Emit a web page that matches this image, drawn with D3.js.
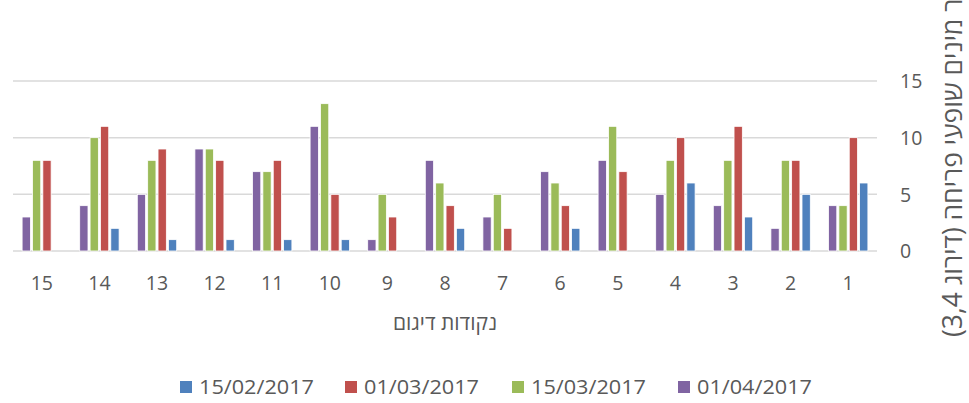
<!DOCTYPE html>
<html><head><meta charset="utf-8">
<script src="https://cdn.jsdelivr.net/npm/d3@7"></script>
<style>body{margin:0;background:#fff}svg{display:block}text{font-family:"Open Sans",sans-serif;fill:#595959}</style>
</head><body><svg id="c" width="969" height="403"></svg>
<script>
const categories = ["1","2","3","4","5","6","7","8","9","10","11","12","13","14","15"];
const seriesNames = ["15/02/2017","01/03/2017","15/03/2017","01/04/2017"];
const seriesColors = ["#4F81BD","#C0504D","#9BBB59","#8064A2"];
const s_15_02 = [6,5,3,6,0,2,0,2,0,1,1,1,1,2,0];
const s_01_03 = [10,8,11,10,7,4,2,4,3,5,8,8,9,11,8];
const s_15_03 = [4,8,8,8,11,6,5,6,5,13,7,9,8,10,8];
const s_01_04 = [4,2,4,5,8,7,3,8,1,11,7,9,5,4,3];
const seriesValues = [s_15_02, s_01_03, s_15_03, s_01_04];
const yTicks = [0,5,10,15];
const xTitle = "נקודות דיגום";
const yTitle = "מספר מינים שופעי פריחה (דירוג 3,4)";

const svg = d3.select("#c");
const L = 13, R = 877, T = 81, B = 251;
const x0 = d3.scaleBand().domain(categories.slice().reverse()).range([L, R]).paddingInner(0.28).paddingOuter(0.14);
const order = [3,2,1,0]; // left-to-right within group
const x1 = d3.scaleBand().domain(order).range([0, x0.bandwidth()]).paddingInner(0.2).paddingOuter(0.1);
const y = d3.scaleLinear().domain([0,15]).range([B, T]);

// gridlines
svg.append("g").selectAll("line").data(yTicks).join("line")
  .attr("x1", L).attr("x2", R).attr("y1", d=>y(d)).attr("y2", d=>y(d))
  .attr("stroke", "#d9d9d9").attr("stroke-width", 1.5);

// y labels
const yAxis = d3.axisRight(y).tickValues(yTicks).tickSize(0).tickPadding(0);
const ga = svg.append("g").attr("transform", `translate(${R+23},0)`).call(yAxis);
ga.select(".domain").remove();
ga.selectAll("text").attr("font-size", 19.5).attr("fill", "#595959").attr("font-family", "Open Sans").attr("dy","0.35em");

// bars
const g = svg.append("g");
categories.forEach((c, ci) => {
  order.forEach(si => {
    const v = seriesValues[si][ci];
    if (v <= 0) return;
    g.append("rect")
      .attr("x", x0(c) + x1(si)).attr("width", x1.bandwidth())
      .attr("y", y(v)).attr("height", y(0) - y(v))
      .attr("fill", seriesColors[si]).attr("stroke", "#ffffff").attr("stroke-width", 0.8);
  });
});

// x labels
const xAxis = d3.axisBottom(x0).tickSize(0).tickPadding(0);
const gx = svg.append("g").attr("transform", `translate(0,${B+32})`).call(xAxis);
gx.select(".domain").remove();
gx.selectAll("text").attr("font-size", 19.5).attr("fill", "#595959").attr("font-family", "Open Sans").attr("dy","0.35em");

// x title
svg.append("text").attr("x", (L+R)/2).attr("y", 330).attr("text-anchor","middle")
  .attr("font-size", 21).attr("direction","rtl").text(xTitle);

// y title
svg.append("text").attr("transform","translate(962,337) rotate(-90)")
  .attr("text-anchor","end").attr("direction","rtl").attr("font-size",26.4).text(yTitle);

// legend
const legX = [180, 345, 512, 678];
const lg = svg.append("g");
seriesNames.forEach((n, i) => {
  lg.append("rect").attr("x", legX[i]).attr("y", 381).attr("width", 12).attr("height", 12).attr("fill", seriesColors[i]);
  lg.append("text").attr("x", legX[i] + 19).attr("y", 394).attr("font-size", 19.5)
    .attr("textLength", 115).attr("lengthAdjust", "spacingAndGlyphs").text(n);
});
</script></body></html>
